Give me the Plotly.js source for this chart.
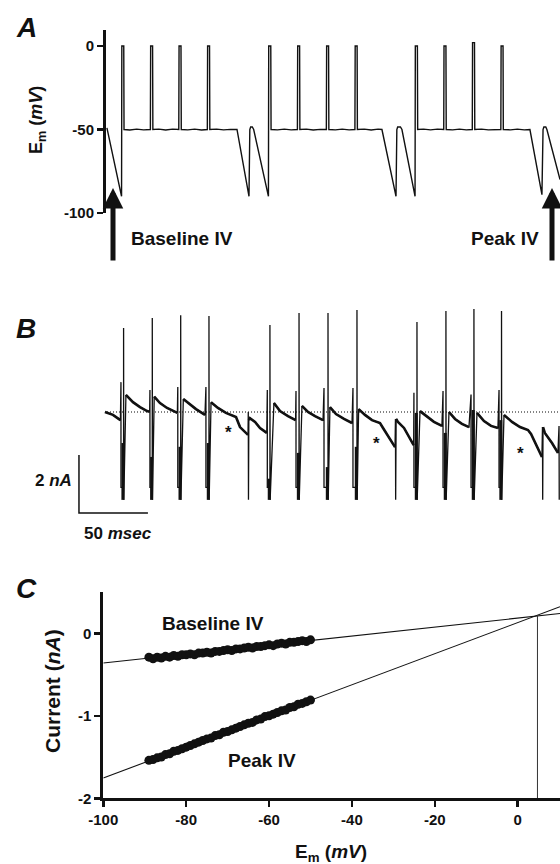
<!DOCTYPE html>
<html><head><meta charset="utf-8">
<script src="https://cdn.plot.ly/plotly-3.0.1.min.js"></script>
<style>html,body{margin:0;padding:0;background:#fff;}#chart{width:560px;height:864px;}</style>
</head><body><div id="chart"></div>
<script>
// ---------- Panel A: membrane potential command (time ms, Em mV) ----------
const tA = [1.4,12.0,12.2,13.6,13.8,18,23,28,32.9,33.1,34.5,34.7,39,44,49,53.5,53.7,55.1,55.3,60,65,70,74.2,74.4,75.8,76.0,81,86,91,95.7,
  104.4,105.0,105.6,106.8,107.8,118.5,118.7,120.2,120.4,125,130,135,139.5,139.7,141.1,141.3,146,151,156,160.5,160.7,162.1,162.3,167,172,177,
  181.2,181.4,182.8,183.0,188,193,198,200.8,211.0,211.6,212.2,214.2,215.3,224.8,225.0,226.5,226.7,231,236,241,245.6,245.8,247.2,247.4,
  252,257,262,266.3,266.5,267.9,268.1,273,278,283,287.0,287.2,288.6,288.8,294,299,304,308.1,316.8,317.6,318.2,319.6,320.4,329.9];
const vA = [-49,-90,0,0,-50,-50.3,-49.8,-50.2,-50,0,0,-50,-49.8,-50.3,-49.8,-50,0,0,-50,-50.2,-49.8,-50.3,-50,0,0,-50,-49.8,-50.2,-49.9,-50,
  -90,-50,-48.5,-48.5,-50,-90,0,0,-50,-50.2,-49.8,-50.2,-50,0,0,-50,-49.8,-50.3,-49.9,-50,0,0,-50,-50.2,-49.8,-50.2,
  -50,0,0,-50,-49.8,-50.3,-49.8,-50,-90,-50,-48.5,-48.5,-50,-90,0,0,-50,-49.8,-50.2,-49.8,-50,0,0,-50,
  -50.2,-49.8,-50.2,-50,2,2,-50,-49.8,-50.2,-49.9,-50,0,0,-50,-50.2,-49.8,-50.2,-50,-89,-50,-48.5,-48.5,-50,-80];
const aTicks = [0,-50,-100];
const arrowT = [5.8, 324.1];       // arrow tips (ms)
const arrowV = [-85, -85];         // arrow tips (mV)

// ---------- Panel B: membrane current (time ms, nA) ----------
const segT = [
  [0,5.8,11.2],
  [15.2,20.3,25.4,30.5,32.4],
  [35.7,39.9,45.0,50.0,52.5],
  [56.8,60.9,66.0,72.5],
  [76.9,81.9,87.7,93.5,95.0,97.9,100.8,103.7],
  [104.3,105.1,108.8,112.4,117.3],
  [122.5,126.9,132.7,138.2],
  [142.8,147.2,152.3,158.1],
  [163.1,167.5,173.3,179.1],
  [183.9,188.5,193.6,199.4,201.6,205.9,210.3],
  [211.1,212.4,216.8,220.4,223.8],
  [228.4,233.5,238.5,244.3],
  [249.4,253.8,258.8,263.9],
  [269.7,274.8,279.9,284.9],
  [289.3,295.1,300.9,306.7,308.9,312.5,316.8],
  [317.6,318.9,324.1,328.4]
];
const segI = [
  [0,-0.10,-0.28],
  [0.59,0.34,0.17,0.03,0.01],
  [0.53,0.31,0.14,0.03,-0.03],
  [0.45,0.28,0.10,-0.10],
  [0.34,0.14,-0.03,-0.14,-0.17,-0.52,-0.66,-0.79],
  [-0.28,-0.21,-0.34,-0.55,-0.72],
  [0.31,0.03,-0.14,-0.28],
  [0.21,0.0,-0.14,-0.28],
  [0.17,-0.07,-0.24,-0.38],
  [0.10,-0.10,-0.28,-0.38,-0.55,-0.90,-1.21],
  [-0.24,-0.34,-0.55,-0.86,-1.14],
  [0.03,-0.17,-0.34,-0.48],
  [0.0,-0.24,-0.41,-0.52],
  [-0.03,-0.31,-0.48,-0.55],
  [-0.10,-0.34,-0.52,-0.62,-0.76,-1.14,-1.55],
  [-0.52,-0.72,-1.07,-1.41]
];
const spikeT        = [11.6,32.6,52.8,73.2,117.7,138.5,158.8,179.8,224.0,245.1,265.4,285.7];
const spikeShortTop = [1.03,0.76,0.86,0.86,0.76,0.72,0.83,0.83,0.66,0.72,0.60,0.76];
const spikeTallT    = [13.5,34.3,54.9,75.4,119.6,140.7,161.7,182.7,226.2,247.2,267.5,287.5];
const spikeTallTop  = [2.90,3.24,3.34,3.31,3.00,3.41,3.41,3.52,3.10,3.48,3.55,3.48];
const spikeDenseTop = [-1.07,-1.55,-1.2,-1.07,-2.3,-1.41,-1.9,-1.2,-0.03,-0.72,0.07,-0.28];
const thinT   = [103.9,210.6,317.2,329.2];
const thinTop = [0.0,-0.24,-0.52,-0.48];
const spikeBottom = -3.03, shortBottom = -2.6;
const baseT = [1.5, 329.9], baseI = [0, 0];
const starT = [89.2,196.5,301.6], starI = [-0.62,-0.97,-1.34];
const scaleT0 = -18.85, scaleI0 = -3.48, scaleMs = 50, scaleNA = 2;

// ---------- Panel C: I-V relations (Em mV, current nA) ----------
const ivV = [-89,-88,-87,-86,-85,-84,-83,-82,-81,-80,-79,-78,-77,-76,-75,-74,-73,-72,-71,-70,
             -69,-68,-67,-66,-65,-64,-63,-62,-61,-60,-59,-58,-57,-56,-55,-54,-53,-52,-51,-50];
const baseIV = [-0.29,-0.31,-0.29,-0.30,-0.28,-0.29,-0.27,-0.28,-0.26,-0.26,-0.25,-0.26,-0.24,-0.24,-0.23,-0.24,-0.22,-0.22,-0.21,-0.20,
                -0.21,-0.19,-0.19,-0.18,-0.17,-0.18,-0.16,-0.16,-0.15,-0.14,-0.15,-0.13,-0.12,-0.13,-0.11,-0.11,-0.10,-0.09,-0.10,-0.08];
const peakIV = [-1.54,-1.53,-1.51,-1.50,-1.47,-1.46,-1.43,-1.42,-1.40,-1.38,-1.36,-1.34,-1.32,-1.30,-1.28,-1.27,-1.24,-1.23,-1.20,-1.19,
                -1.17,-1.15,-1.13,-1.11,-1.09,-1.08,-1.05,-1.04,-1.01,-1.00,-0.98,-0.96,-0.94,-0.93,-0.90,-0.89,-0.86,-0.85,-0.83,-0.81];
const fitV = [-100, 10.2];
const baseFitI = [-0.36, 0.239];
const peakFitI = [-1.754, 0.321];
const revV = [4.76, 4.76], revI = [-2, 0.218];
const cXTicks = [-100,-80,-60,-40,-20,0];
const cYTicks = [0,-1,-2];

// ---------- build panel B paths ----------
const events = [];
spikeT.forEach((t,k)=>events.push({t:t,type:'s',k:k}));
thinT.forEach((t,k)=>events.push({t:t,type:'t',k:k}));
events.sort((a,b)=>a.t-b.t);
const fullX=[], fullY=[], slowX=[], slowY=[], denseX=[], denseY=[];
segT.forEach((seg,s)=>{
  seg.forEach((t,j)=>{fullX.push(t);fullY.push(segI[s][j]);slowX.push(t);slowY.push(segI[s][j]);});
  slowX.push(null);slowY.push(null);
  const ev = events[s];
  if(!ev) return;
  const k=ev.k;
  if(ev.type==='s'){
    fullX.push(spikeT[k],spikeT[k],spikeTallT[k],spikeTallT[k],spikeTallT[k]+0.15);
    fullY.push(spikeShortTop[k],shortBottom,shortBottom,spikeTallTop[k],spikeBottom);
    denseX.push(spikeTallT[k]-0.5,spikeTallT[k]-0.5,null);
    denseY.push(spikeDenseTop[k],spikeBottom,null);
  } else {
    fullX.push(thinT[k],thinT[k]+0.15);
    fullY.push(thinTop[k],spikeBottom);
  }
});

const FONT = 'Liberation Sans, Arial, Helvetica, sans-serif';
const INK = '#111';
const W=560,H=864;
const px = x=>x/W, py = y=>1-y/H;
const tf = {family:FONT,size:15,color:INK,weight:700};

const traces = [
  {x:tA,y:vA,xaxis:'x',yaxis:'y',mode:'lines',line:{color:INK,width:1.4},hoverinfo:'skip'},
  {x:baseT,y:baseI,xaxis:'x2',yaxis:'y2',mode:'lines',line:{color:'#000',width:1.1,dash:'1px,2px'},hoverinfo:'skip'},
  {x:fullX,y:fullY,xaxis:'x2',yaxis:'y2',mode:'lines',line:{color:INK,width:1.3},hoverinfo:'skip'},
  {x:slowX,y:slowY,xaxis:'x2',yaxis:'y2',mode:'lines',line:{color:INK,width:2.6},hoverinfo:'skip',connectgaps:false},
  {x:denseX,y:denseY,xaxis:'x2',yaxis:'y2',mode:'lines',line:{color:INK,width:3},hoverinfo:'skip',connectgaps:false},
  {x:[scaleT0,scaleT0,scaleT0+scaleMs],y:[scaleI0+scaleNA,scaleI0,scaleI0],xaxis:'x2',yaxis:'y2',mode:'lines',line:{color:INK,width:1.5},hoverinfo:'skip'},
  {x:fitV,y:baseFitI,xaxis:'x3',yaxis:'y3',mode:'lines',line:{color:INK,width:1.1},hoverinfo:'skip'},
  {x:fitV,y:peakFitI,xaxis:'x3',yaxis:'y3',mode:'lines',line:{color:INK,width:1.1},hoverinfo:'skip'},
  {x:revV,y:revI,xaxis:'x3',yaxis:'y3',mode:'lines',line:{color:'#333',width:1},hoverinfo:'skip'},
  {x:ivV,y:baseIV,xaxis:'x3',yaxis:'y3',mode:'markers',marker:{color:INK,size:9},hoverinfo:'skip'},
  {x:ivV,y:peakIV,xaxis:'x3',yaxis:'y3',mode:'markers',marker:{color:INK,size:9},hoverinfo:'skip'}
];

const ax = (extra)=>Object.assign({showgrid:false,zeroline:false,fixedrange:true},extra);
const annBase = {showarrow:false,xanchor:'center',yanchor:'middle',font:{family:FONT,size:19,color:INK,weight:700}};
function ann(o){return Object.assign({},annBase,o,{font:Object.assign({},annBase.font,o.font||{})});}

const annotations = [
  ann({xref:'paper',yref:'paper',x:px(26),y:py(27),text:'<b><i>A</i></b>',font:{size:28}}),
  ann({xref:'paper',yref:'paper',x:px(26),y:py(328),text:'<b><i>B</i></b>',font:{size:28}}),
  ann({xref:'paper',yref:'paper',x:px(26),y:py(588),text:'<b><i>C</i></b>',font:{size:28}}),
  ann({xref:'paper',yref:'paper',x:px(38),y:py(120),text:'<b>E<sub>m</sub> (<i>mV</i>)</b>',textangle:-90,font:{size:18}}),
  ann({xref:'paper',yref:'paper',x:px(182),y:py(239),text:'<b>Baseline IV</b>'}),
  ann({xref:'paper',yref:'paper',x:px(505),y:py(239),text:'<b>Peak IV</b>'}),
  ann({xref:'paper',yref:'paper',x:px(74),y:py(481),xanchor:'right',text:'<b>2 <i>nA</i></b>',font:{size:17}}),
  ann({xref:'paper',yref:'paper',x:px(82),y:py(533),xanchor:'left',text:'<b>50 <i>msec</i></b>',font:{size:17}}),
  ann({xref:'paper',yref:'paper',x:px(213),y:py(623),text:'<b>Baseline IV</b>'}),
  ann({xref:'paper',yref:'paper',x:px(262),y:py(760),text:'<b>Peak IV</b>'}),
  ann({xref:'paper',yref:'paper',x:px(52),y:py(691),text:'<b>Current (<i>nA</i>)</b>',textangle:-90,font:{size:21}}),
  ann({xref:'paper',yref:'paper',x:px(331),y:py(853),text:'<b>E<sub>m</sub> (<i>mV</i>)</b>',font:{size:19}})
];
arrowT.forEach((t,k)=>annotations.push({xref:'x',yref:'y',x:t,y:arrowV[k],ax:0,ay:74,text:'',showarrow:true,
  arrowhead:2,arrowsize:0.82,arrowwidth:5,arrowcolor:INK}));
starT.forEach((t,k)=>annotations.push(ann({xref:'x2',yref:'y2',x:t,y:starI[k],text:'<b>*</b>',yshift:-3,font:{size:17}})));

const layout = {
  width:W,height:H,margin:{l:0,r:0,t:0,b:0},paper_bgcolor:'#fff',plot_bgcolor:'rgba(0,0,0,0)',showlegend:false,
  font:{family:FONT,color:INK},
  xaxis: ax({domain:[px(106),1],range:[0.725,329.9],visible:false,anchor:'y'}),
  yaxis: ax({domain:[py(213),py(30)],range:[-100,9.58],anchor:'x',tickmode:'array',tickvals:aTicks,ticktext:aTicks.map(String),
    ticks:'outside',ticklen:6,tickwidth:2.5,tickcolor:INK,showline:true,linewidth:3,linecolor:INK,tickfont:tf}),
  xaxis2: ax({domain:[0,1],range:[-76.1,329.9],visible:false,anchor:'y2'}),
  yaxis2: ax({domain:[py(520),py(300)],range:[-3.724,3.862],visible:false,anchor:'x2'}),
  xaxis3: ax({domain:[px(103.3),1],range:[-100,10.2],anchor:'y3',tickmode:'array',tickvals:cXTicks,ticktext:cXTicks.map(String),
    ticks:'outside',ticklen:6,tickwidth:2.5,tickcolor:INK,showline:true,linewidth:3,linecolor:INK,tickfont:tf}),
  yaxis3: ax({domain:[py(798.3),py(592)],range:[-2,0.5],anchor:'x3',tickmode:'array',tickvals:cYTicks,ticktext:cYTicks.map(String),
    ticks:'outside',ticklen:6,tickwidth:2.5,tickcolor:INK,showline:true,linewidth:3,linecolor:INK,tickfont:tf}),
  annotations:annotations
};
Plotly.newPlot('chart',traces,layout,{staticPlot:true,displayModeBar:false});
</script></body></html>
